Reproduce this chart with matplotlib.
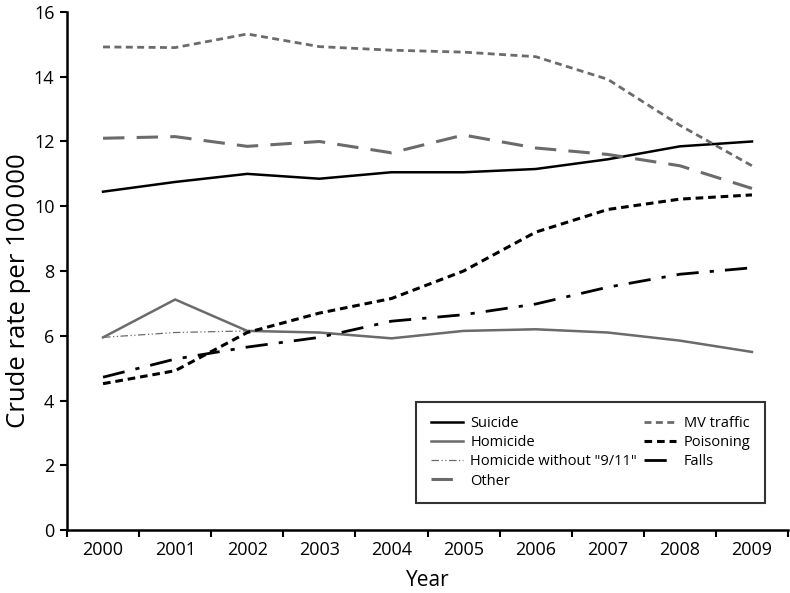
import matplotlib.pyplot as plt
import numpy as np

plt.rcParams['font.family'] = ['Open Sans', 'DejaVu Sans']

years = ['2000', '2001', '2002', '2003', '2004', '2005', '2006', '2007', '2008', '2009']
suicide = [10.45, 10.75, 11.0, 10.85, 11.05, 11.05, 11.15, 11.45, 11.85, 12.0]
homicide = [5.95, 7.12, 6.15, 6.1, 5.92, 6.15, 6.2, 6.1, 5.85, 5.5]
homicide_no911 = [5.95, 6.1, 6.15, 6.1, 5.92, 6.15, 6.2, 6.1, 5.85, 5.5]
other = [12.1, 12.15, 11.85, 12.0, 11.65, 12.2, 11.8, 11.6, 11.25, 10.55]
mv_traffic = [14.92, 14.9, 15.32, 14.93, 14.82, 14.76, 14.62, 13.92, 12.5, 11.25]
poisoning = [4.52, 4.92, 6.1, 6.7, 7.15, 8.0, 9.2, 9.9, 10.22, 10.35]
falls = [4.72, 5.28, 5.65, 5.95, 6.45, 6.65, 6.98, 7.5, 7.9, 8.1]

gray = '#6b6b6b'
x = np.arange(len(years))

fig = plt.figure(figsize=(7.9, 5.93), dpi=100)
ax = fig.add_axes([0.0848, 0.1062, 0.9127, 0.8736])

ax.plot(x, homicide_no911, color=gray, lw=0.9, dashes=(6, 2, 1, 2, 1, 2), label='Homicide without "9/11"')
ax.plot(x, suicide, color='black', lw=1.8, label='Suicide')
ax.plot(x, homicide, color=gray, lw=1.8, label='Homicide')
ax.plot(x, other, color=gray, lw=2.2, dashes=(7, 4), label='Other')
ax.plot(x, mv_traffic, color=gray, lw=2.0, dashes=(2.5, 1.6), label='MV traffic')
ax.plot(x, poisoning, color='black', lw=2.2, dashes=(2.5, 1.6), label='Poisoning')
ax.plot(x, falls, color='black', lw=2.0, dashes=(8, 4, 1.5, 4), label='Falls')

ax.set_xlim(-0.5, 9.5)
ax.set_ylim(0, 16)
ax.set_yticks(range(0, 17, 2))
ax.set_xticks(np.arange(-0.5, 10, 1))
ax.set_xticklabels([])
ax.set_xticks(x, minor=True)
ax.set_xticklabels(years, minor=True)
ax.tick_params(axis='x', which='minor', length=0, pad=8, labelsize=13)
ax.tick_params(axis='both', which='major', direction='out', length=5, width=1.5, labelsize=13)
ax.tick_params(axis='y', pad=4)

for s in ['top', 'right']:
    ax.spines[s].set_visible(False)
for s in ['left', 'bottom']:
    ax.spines[s].set_linewidth(1.8)

ax.set_xlabel('Year', fontsize=15, labelpad=8)
ax.set_ylabel('Crude rate per 100\u2009000', fontsize=18.5)
ax.yaxis.set_label_coords(-0.05, 0.463)

h, l = ax.get_legend_handles_labels()
order = ['Suicide', 'Homicide', 'Homicide without "9/11"', 'Other', 'MV traffic', 'Poisoning', 'Falls']
hh = [h[l.index(o)] for o in order]
leg = ax.legend(hh, order, ncol=2, loc='lower right', bbox_to_anchor=(0.968, 0.052),
                borderaxespad=0, fontsize=10.5, frameon=True, fancybox=False, edgecolor='black',
                handlelength=2.2, handletextpad=0.5, columnspacing=0.5,
                labelspacing=0.28, borderpad=1.0)
leg.get_frame().set_linewidth(1.5)

fig.savefig('out.png', dpi=100)
